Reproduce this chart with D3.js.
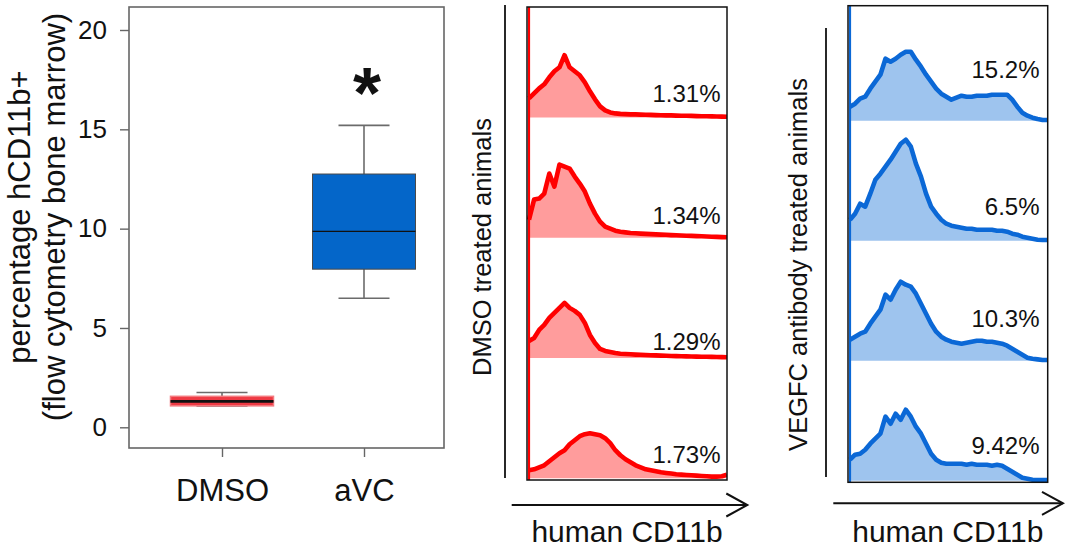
<!DOCTYPE html>
<html>
<head>
<meta charset="utf-8">
<script src="https://cdn.jsdelivr.net/npm/d3@7/dist/d3.min.js"></script>
<style>
  body { margin: 0; background: #fff; }
  text { font-family: "Liberation Sans", Arial, sans-serif; }
</style>
</head>
<body>
<script>
// box plot data (percentage hCD11b+)
var groups = ["DMSO", "aVC"];
var boxLow = [1.08, 6.5];
var boxQ1 = [1.08, 7.96];
var boxMedian = [1.31, 9.86];
var boxQ3 = [1.56, 12.75];
var boxHigh = [1.75, 15.2];
var yTicks = [0, 5, 10, 15, 20];

// flow cytometry histograms, 40 bins each, counts
var dmsoHist1 = [19, 24, 29, 33, 40, 46, 50, 62, 50, 46, 42, 35, 26, 18, 11, 7, 5, 4, 3.5, 3.3,
  3, 3, 2.8, 2.7, 2.5, 2.3, 2.2, 2, 2, 1.8, 1.7, 1.6, 1.5, 1.3, 1.2, 1.1, 1, 0.9, 0.8, 0.7];
var dmsoHist2 = [18, 38, 39, 44, 64, 51, 73, 71, 69, 61, 54, 46, 34, 24, 16, 11, 9, 7, 6, 5.3,
  4.7, 4.4, 4.1, 3.8, 3.6, 3.3, 3.1, 2.9, 2.6, 2.4, 2.2, 2, 1.8, 1.6, 1.4, 1.2, 1, 0.8, 0.6, 0.4];
var dmsoHist3 = [17, 20, 28, 33, 40, 45, 50, 55, 50, 47, 43, 35, 23, 15, 9, 7, 6, 5, 4.3, 4,
  3.7, 3.4, 3.2, 3, 2.8, 2.6, 2.4, 2.2, 2, 1.9, 1.8, 1.6, 1.5, 1.4, 1.3, 1.2, 1.1, 1, 0.9, 0.8];
var dmsoHist4 = [8, 9, 11, 13, 17, 21, 25, 28, 34, 38, 42, 44, 45, 44, 43, 40, 35, 28, 23, 19,
  16, 13, 11, 9, 8, 7, 6, 5.3, 4.7, 4, 3.7, 3.3, 3, 2.7, 2.3, 2, 1.7, 1.7, 2, 3.7];
var vegfcHist1 = [14, 17, 22, 24, 32, 39, 46, 62, 59, 62, 66, 69, 69, 61, 54, 46, 39, 32, 27, 24,
  21, 23, 25, 24, 24, 25, 25, 25, 26, 26, 26, 26, 21, 14, 8, 5, 3, 1.7, 0.7, 0.7];
var vegfcHist2 = [21, 27, 37, 34, 47, 61, 67, 74, 81, 89, 97, 101, 94, 77, 64, 47, 34, 27, 21, 17,
  15, 14, 13, 12, 12, 11, 11, 11, 11, 10, 10, 9, 7, 6, 4, 3, 2, 1, 0.7, 0.7];
var vegfcHist3 = [21, 24, 27, 29, 37, 44, 51, 66, 61, 71, 79, 76, 74, 67, 57, 47, 37, 29, 24, 21,
  19, 18, 17, 18, 19, 20, 20, 19, 19, 18, 17, 15, 12, 9, 6, 3, 2, 1.3, 0.7, 0.7];
var vegfcHist4 = [21, 26, 27, 31, 37, 42, 47, 64, 57, 67, 61, 71, 64, 54, 47, 37, 27, 21, 18, 17,
  17, 17, 17, 16, 17, 16, 16, 16, 15, 16, 15, 12, 9, 6, 3, 2, 1, 0.7, 0.7, 0.7];

var dmsoPercent = ["1.31%", "1.34%", "1.29%", "1.73%"];
var vegfcPercent = ["15.2%", "6.5%", "10.3%", "9.42%"];

// label heights above each row's baseline (layout)
var dmsoLabelLift = [15.6, 13.7, 8.3, 15];
var vegfcLabelLift = [42.4, 25.7, 34, 26.7];

var FONT = "Liberation Sans, Arial, sans-serif";

var svg = d3.select("body").append("svg")
  .attr("width", 1065)
  .attr("height", 552);

// ---------------- box plot ----------------
var frame = {left: 129, right: 444, top: 7, bottom: 448};

var y = d3.scaleLinear().domain([0, 20]).range([427.3, 30]);
var x = d3.scalePoint().domain(groups).range([222, 364]);

var BOX_W = 103, CAP_W = 51;

svg.append("rect")
  .attr("x", frame.left)
  .attr("y", frame.top)
  .attr("width", frame.right - frame.left)
  .attr("height", frame.bottom - frame.top)
  .attr("fill", "none")
  .attr("stroke", "#666")
  .attr("stroke-width", 1.6);

// y axis
var yAxis = svg.append("g")
  .attr("transform", "translate(" + frame.left + ",0)")
  .call(d3.axisLeft(y).tickValues(yTicks).tickSize(9).tickPadding(13));
yAxis.select(".domain").remove();
yAxis.selectAll("line").attr("stroke", "#666").attr("stroke-width", 1.4);
yAxis.selectAll("text")
  .attr("font-family", FONT)
  .attr("font-size", "26px")
  .attr("fill", "#111");

// x axis
var xAxis = svg.append("g")
  .attr("transform", "translate(0," + frame.bottom + ")")
  .call(d3.axisBottom(x).tickSize(9).tickPadding(22));
xAxis.select(".domain").remove();
xAxis.selectAll("line").attr("stroke", "#666").attr("stroke-width", 1.4);
xAxis.selectAll("text")
  .attr("font-family", FONT)
  .attr("font-size", "31px")
  .attr("fill", "#111");

// y axis title
var ytitle = svg.append("text")
  .attr("transform", "translate(30,217) rotate(-90)")
  .attr("text-anchor", "middle")
  .style("font-size", "31px")
  .attr("fill", "#111");
ytitle.append("tspan").attr("x", 0).attr("y", 0).text("percentage hCD11b+");
ytitle.append("tspan").attr("x", 0).attr("y", 35).text("(flow cytometry bone marrow)");

var boxes = groups.map(function(g, i) {
  return {name: g, low: boxLow[i], q1: boxQ1[i], med: boxMedian[i], q3: boxQ3[i], high: boxHigh[i]};
});

var boxFill = {DMSO: "#ee3a44", aVC: "#0466c9"};
var boxStroke = {DMSO: "#f47a7f", aVC: "#4a4a4a"};

var bg = svg.append("g").selectAll("g")
  .data(boxes)
  .enter().append("g");

// whiskers
bg.append("line")
  .attr("x1", function(d) { return x(d.name); })
  .attr("x2", function(d) { return x(d.name); })
  .attr("y1", function(d) { return y(d.high); })
  .attr("y2", function(d) { return y(d.low); })
  .attr("stroke", "#6b6b6b")
  .attr("stroke-width", 1.6);
bg.selectAll("line.cap")
  .data(function(d) { return [{n: d.name, v: d.high}, {n: d.name, v: d.low}]; })
  .enter().append("line")
  .attr("class", "cap")
  .attr("x1", function(d) { return x(d.n) - CAP_W / 2; })
  .attr("x2", function(d) { return x(d.n) + CAP_W / 2; })
  .attr("y1", function(d) { return y(d.v); })
  .attr("y2", function(d) { return y(d.v); })
  .attr("stroke", "#6b6b6b")
  .attr("stroke-width", 1.6);

bg.append("rect")
  .attr("x", function(d) { return x(d.name) - BOX_W / 2; })
  .attr("y", function(d) { return y(d.q3); })
  .attr("width", BOX_W)
  .attr("height", function(d) { return y(d.q1) - y(d.q3); })
  .attr("fill", function(d) { return boxFill[d.name]; })
  .attr("stroke", function(d) { return boxStroke[d.name]; })
  .attr("stroke-width", function(d) { return d.name == "DMSO" ? 1.5 : 1; });

bg.append("line")
  .attr("x1", function(d) { return x(d.name) - BOX_W / 2; })
  .attr("x2", function(d) { return x(d.name) + BOX_W / 2; })
  .attr("y1", function(d) { return y(d.med); })
  .attr("y2", function(d) { return y(d.med); })
  .attr("stroke", "#111")
  .attr("stroke-width", function(d) { return d.name == "DMSO" ? 2.8 : 1.2; });

// significance star
svg.append("text")
  .attr("x", x("aVC") + 3)
  .attr("y", 118)
  .attr("text-anchor", "middle")
  .style("font-size", "72px")
  .style("font-weight", "bold")
  .attr("fill", "#111")
  .text("*");

// ---------------- histogram panels ----------------
function drawPanel(p) {
  var g = svg.append("g");

  var hx = d3.scaleLinear().domain([0, 39]).range([p.inLeft, p.right]);
  var rows = d3.scaleBand().domain([0, 1, 2, 3]).range([p.rowTop, p.rowBottom]);
  var hy = d3.scaleLinear().domain([0, 120]).range([0, rows.bandwidth()]);

  var clipId = "clip-" + p.id;
  svg.append("clipPath").attr("id", clipId)
    .append("rect")
    .attr("x", p.left).attr("y", p.top)
    .attr("width", p.right - p.left).attr("height", p.bottom - p.top);

  var inner = g.append("g").attr("clip-path", "url(#" + clipId + ")");

  p.hists.forEach(function(h, r) {
    var base = rows(r) + rows.bandwidth();

    var area = d3.area()
      .x(function(d, i) { return hx(i); })
      .y0(base)
      .y1(function(d) { return base - hy(d); });
    var line = d3.line()
      .x(function(d, i) { return hx(i); })
      .y(function(d) { return base - hy(d); });

    inner.append("path")
      .datum(h)
      .attr("d", area)
      .attr("fill", p.fill);
    inner.append("path")
      .datum(h)
      .attr("d", line)
      .attr("fill", "none")
      .attr("stroke", p.stroke)
      .attr("stroke-width", 4.6)
      .attr("stroke-linejoin", "round");

    g.append("text")
      .attr("x", p.labelRight)
      .attr("y", base - p.lift[r])
      .attr("text-anchor", "end")
      .style("font-size", "24px")
      .attr("fill", "#111")
      .text(p.labels[r]);
  });

  // off-scale events at channel 0
  inner.append("line")
    .attr("x1", hx(0)).attr("x2", hx(0))
    .attr("y1", p.top).attr("y2", p.bottom)
    .attr("stroke", p.stroke)
    .attr("stroke-width", 2.2);

  g.append("rect")
    .attr("x", p.left).attr("y", p.top)
    .attr("width", p.right - p.left).attr("height", p.bottom - p.top)
    .attr("fill", "none")
    .attr("stroke", "#111")
    .attr("stroke-width", 1.5);

  // side label and bar
  g.append("line")
    .attr("x1", p.barX).attr("x2", p.barX)
    .attr("y1", p.barTop).attr("y2", p.barBottom)
    .attr("stroke", "#111")
    .attr("stroke-width", 1.8);
  g.append("text")
    .attr("transform", "translate(" + p.titleX + "," + p.titleY + ") rotate(-90)")
    .attr("text-anchor", "middle")
    .style("font-size", "25.5px")
    .attr("fill", "#111")
    .text(p.title);

  // x arrow
  g.append("line")
    .attr("x1", p.arrowX0).attr("x2", p.arrowX1)
    .attr("y1", p.arrowY).attr("y2", p.arrowY)
    .attr("stroke", "#111")
    .attr("stroke-width", 2);
  g.append("path")
    .attr("d", "M" + (p.arrowX1 - 21) + "," + (p.arrowY - 11.5) +
               "L" + p.arrowX1 + "," + p.arrowY +
               "L" + (p.arrowX1 - 21) + "," + (p.arrowY + 11.5))
    .attr("fill", "none")
    .attr("stroke", "#111")
    .attr("stroke-width", 2);
  g.append("text")
    .attr("x", (p.left + p.right) / 2)
    .attr("y", 541.7)
    .attr("text-anchor", "middle")
    .style("font-size", "30px")
    .attr("fill", "#111")
    .text("human CD11b");
}

drawPanel({
  id: "dmso",
  left: 527, right: 727, top: 7, bottom: 480, inLeft: 529,
  rowTop: -2.9, rowBottom: 478.3,
  hists: [dmsoHist1, dmsoHist2, dmsoHist3, dmsoHist4],
  labels: dmsoPercent, lift: dmsoLabelLift, labelRight: 720.5,
  fill: "#ff9c9c", stroke: "#ff0000",
  barX: 505, barTop: 5, barBottom: 478,
  titleX: 491, titleY: 247, title: "DMSO treated animals",
  arrowX0: 511.7, arrowX1: 747.3, arrowY: 505
});

drawPanel({
  id: "vegfc",
  left: 848, right: 1047.7, top: 5.7, bottom: 482.3, inLeft: 850,
  rowTop: 0.7, rowBottom: 480.7,
  hists: [vegfcHist1, vegfcHist2, vegfcHist3, vegfcHist4],
  labels: vegfcPercent, lift: vegfcLabelLift, labelRight: 1039.5,
  fill: "#9ec4ee", stroke: "#0b68d6",
  barX: 826, barTop: 28, barBottom: 477,
  titleX: 807, titleY: 264.5, title: "VEGFC antibody treated animals",
  arrowX0: 833.3, arrowX1: 1063, arrowY: 503.3
});
</script>
</body>
</html>
